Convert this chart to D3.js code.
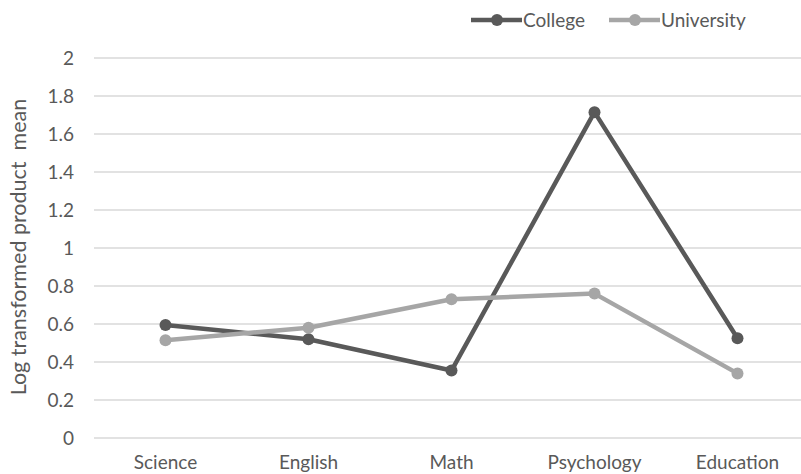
<!DOCTYPE html>
<html>
<head>
<meta charset="utf-8">
<script src="https://cdn.jsdelivr.net/npm/d3@7"></script>
<style>
  html, body { margin: 0; padding: 0; background: #fff; }
  svg { display: block; font-family: Lato, "Open Sans", sans-serif; }
</style>
</head>
<body>
<svg id="chart" width="801" height="474"></svg>
<script>
// Subjects along the x axis
const categories = ["Science", "English", "Math", "Psychology", "Education"];
// Log transformed product means per group
const collegeValues = [0.595, 0.52, 0.355, 1.715, 0.525];
const universityValues = [0.515, 0.58, 0.73, 0.76, 0.34];
const yTicks = [0, 0.2, 0.4, 0.6, 0.8, 1, 1.2, 1.4, 1.6, 1.8, 2];
const seriesNames = ["College", "University"];

const series = [
  { name: seriesNames[0], values: collegeValues, color: "#595959" },
  { name: seriesNames[1], values: universityValues, color: "#a6a6a6" }
];

const svg = d3.select("#chart");
const textColor = "#595959";
const labelSize = "19px";
const titleSize = "21.5px";

const x = d3.scaleBand().domain(categories).range([94, 809]);
const y = d3.scaleLinear().domain([0, 2]).range([438, 58]);

// Horizontal gridlines
svg.append("g")
  .selectAll("line")
  .data(yTicks)
  .join("line")
  .attr("x1", 94)
  .attr("x2", 801)
  .attr("y1", d => y(d))
  .attr("y2", d => y(d))
  .attr("stroke", "#d9d9d9")
  .attr("stroke-width", 1.3);

// Y axis tick labels
const yAxis = d3.axisLeft(y).tickValues(yTicks).tickSize(0).tickPadding(0)
  .tickFormat(d => d3.format("")(d));
svg.append("g")
  .attr("transform", "translate(74,0)")
  .call(yAxis)
  .call(g => g.select(".domain").remove())
  .call(g => g.selectAll("text")
    .attr("fill", textColor)
    .style("font-size", labelSize)
    .style("font-family", "Lato, 'Open Sans', sans-serif"));

// X axis category labels
const xAxis = d3.axisBottom(x).tickSize(0).tickPadding(0);
svg.append("g")
  .attr("transform", "translate(0,0)")
  .call(xAxis)
  .call(g => g.select(".domain").remove())
  .call(g => g.selectAll("text")
    .attr("y", 469)
    .attr("dy", null)
    .attr("fill", textColor)
    .style("font-size", labelSize)
    .style("font-family", "Lato, 'Open Sans', sans-serif"));

// Y axis title
svg.append("text")
  .attr("transform", "translate(26,247) rotate(-90)")
  .attr("text-anchor", "middle")
  .attr("fill", textColor)
  .style("font-size", titleSize)
  .style("white-space", "pre")
  .text("Log transformed product  mean");

const cx = d => x(d) + x.bandwidth() / 2;
const line = d3.line()
  .x(d => cx(d.cat))
  .y(d => y(d.v));

series.forEach(s => {
  const pts = categories.map((c, i) => ({ cat: c, v: s.values[i] }));
  const g = svg.append("g");
  g.append("path")
    .datum(pts)
    .attr("d", line)
    .attr("fill", "none")
    .attr("stroke", s.color)
    .attr("stroke-width", 4.5)
    .attr("stroke-linejoin", "round");
  g.selectAll("circle")
    .data(pts)
    .join("circle")
    .attr("cx", d => cx(d.cat))
    .attr("cy", d => y(d.v))
    .attr("r", 6)
    .attr("fill", s.color);
});

// Legend
const legendX = [471, 609];
const legend = svg.append("g");
series.forEach((s, i) => {
  const lg = legend.append("g").attr("transform", `translate(${legendX[i]},20)`);
  lg.append("line")
    .attr("x1", 0).attr("x2", 51)
    .attr("y1", 0).attr("y2", 0)
    .attr("stroke", s.color)
    .attr("stroke-width", 4.5);
  lg.append("circle")
    .attr("cx", 26).attr("cy", 0).attr("r", 6)
    .attr("fill", s.color);
  lg.append("text")
    .attr("x", 52).attr("y", 7)
    .attr("fill", textColor)
    .style("font-size", labelSize)
    .text(s.name);
});
</script>
</body>
</html>
